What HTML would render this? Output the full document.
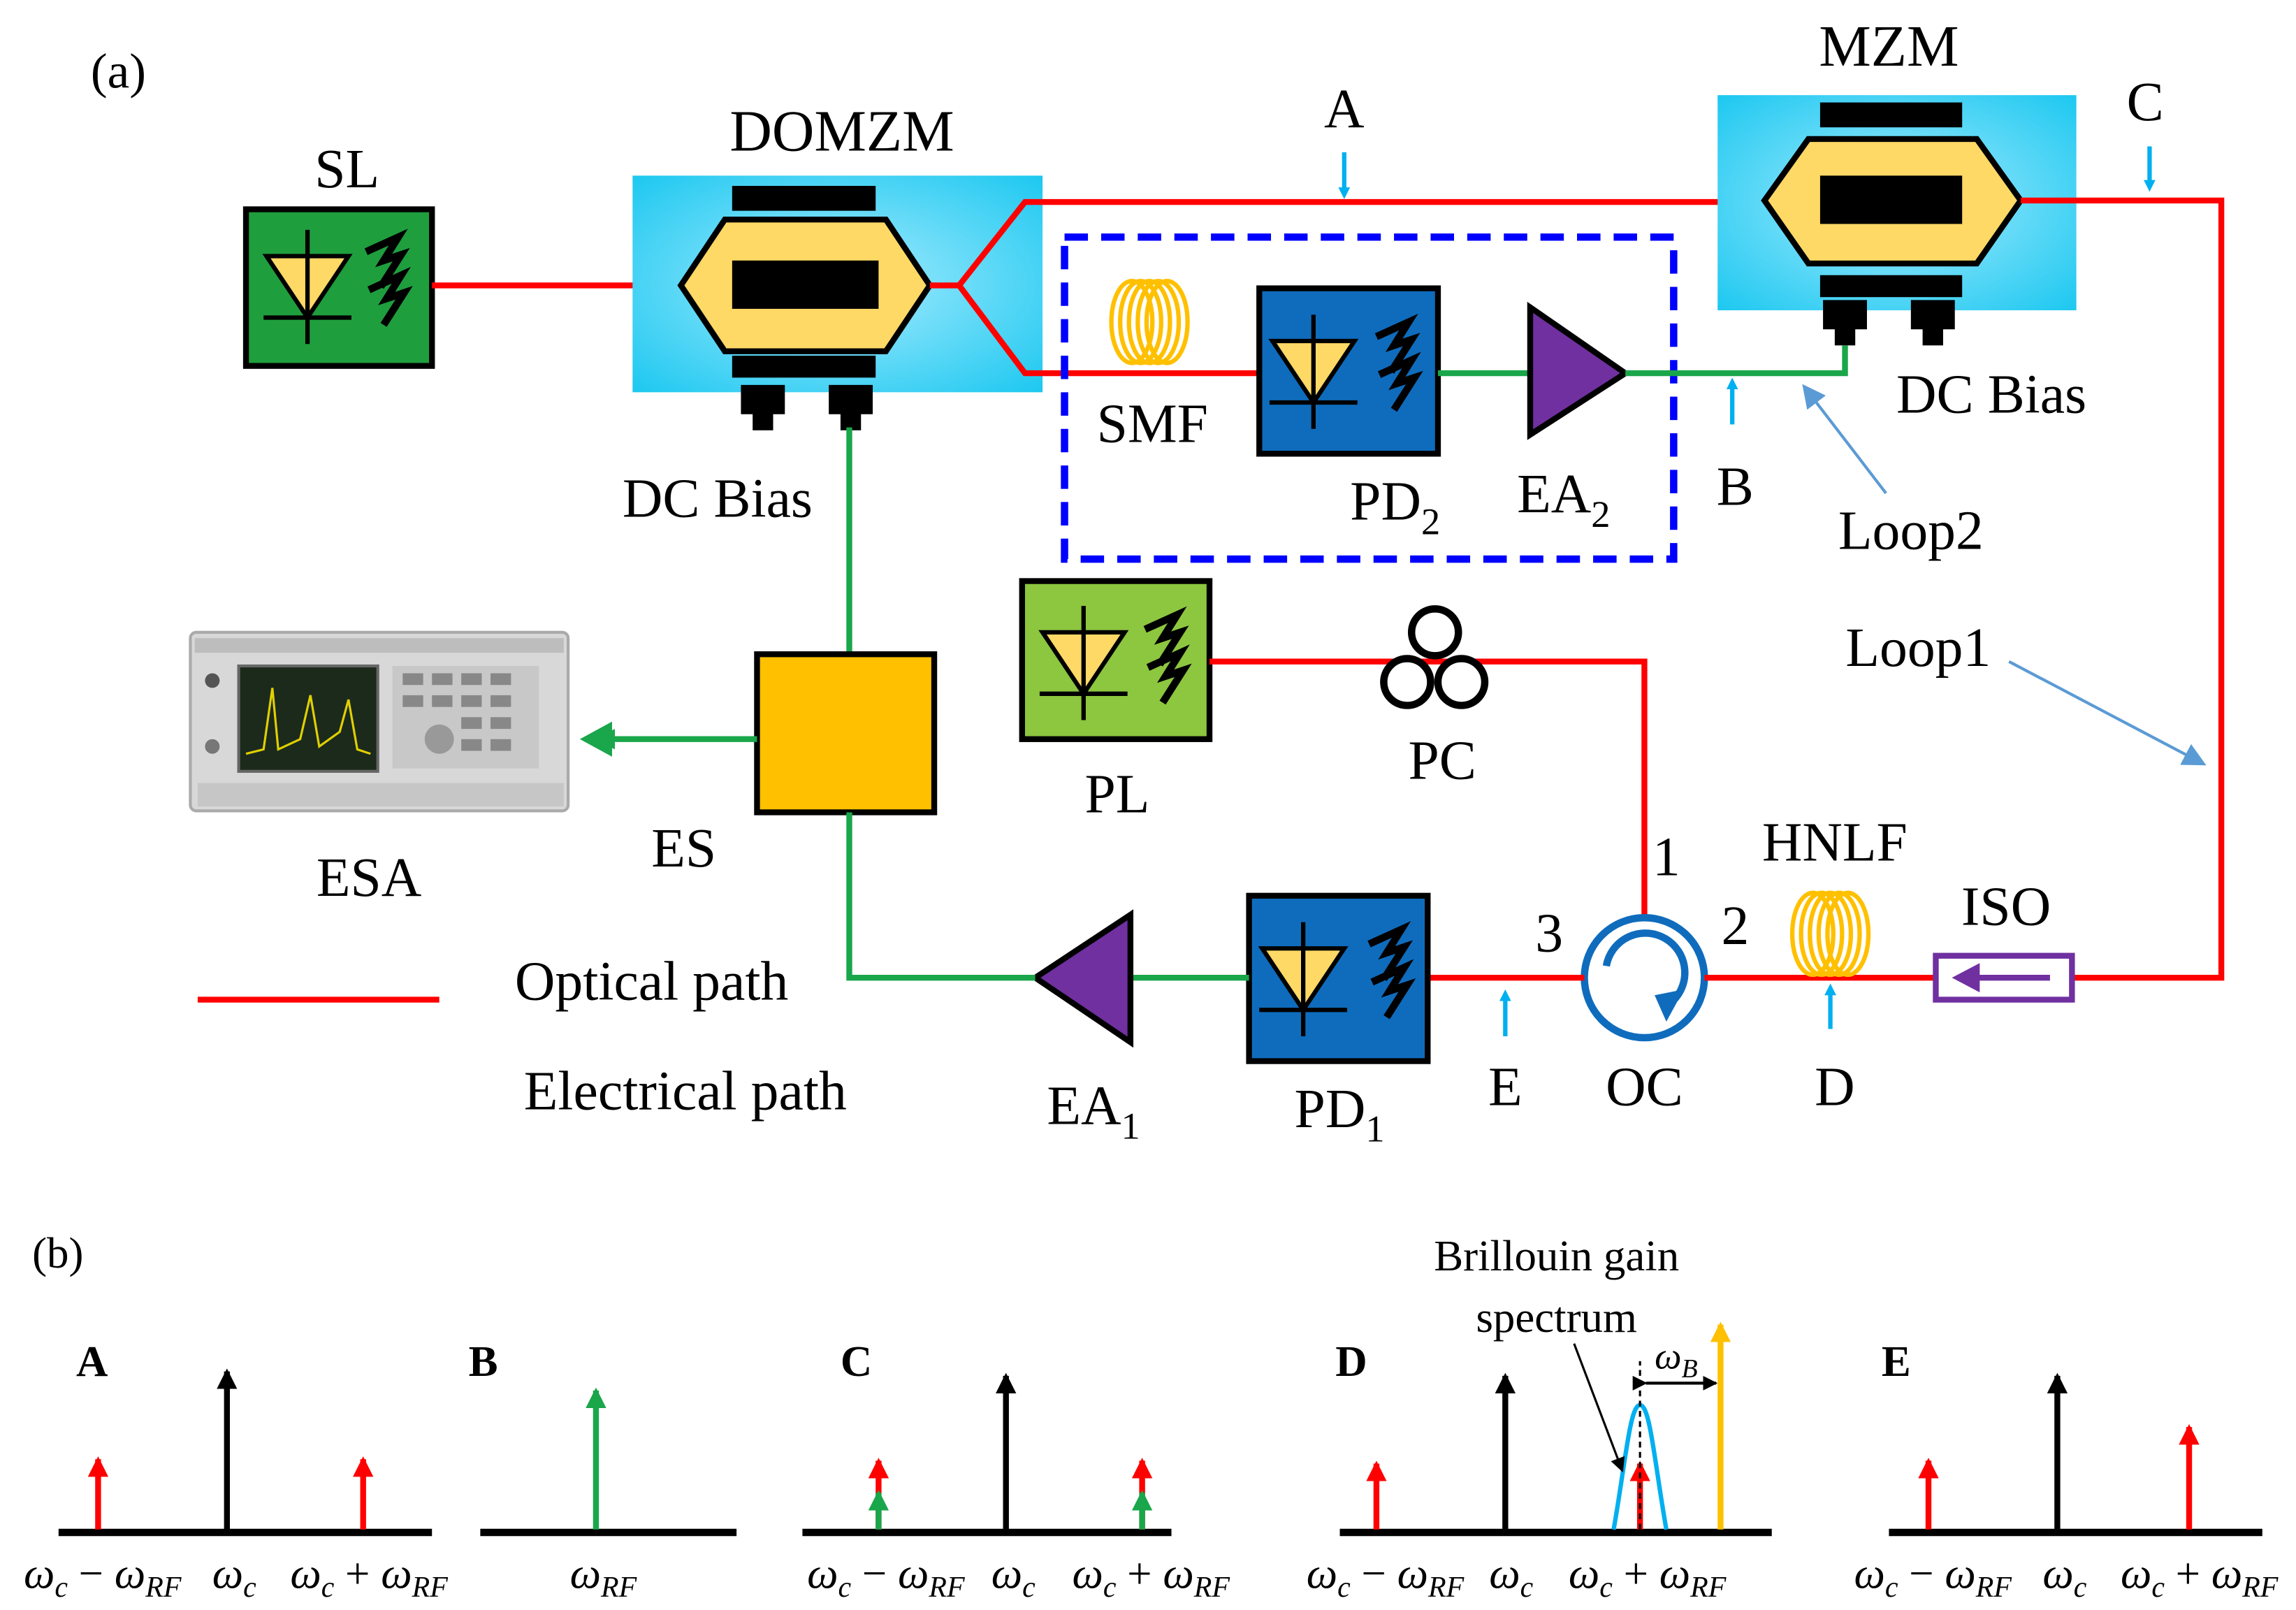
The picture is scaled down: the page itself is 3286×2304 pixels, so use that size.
<!DOCTYPE html>
<html><head><meta charset="utf-8"><style>
html,body{margin:0;padding:0;background:#fff;}
svg{display:block;}
text{font-family:"Liberation Serif",serif;fill:#000;}
</style></head><body>
<svg width="3286" height="2304" viewBox="0 0 1568 1100" preserveAspectRatio="none" xmlns="http://www.w3.org/2000/svg">
<defs>
<marker id="ab" markerWidth="8" markerHeight="8" refX="4" refY="4" orient="auto" markerUnits="userSpaceOnUse"><path d="M0,0 L8,4 L0,8 Z" fill="#00b0f0"/></marker>
<marker id="ak" markerWidth="14" markerHeight="14" refX="12" refY="7" orient="auto" markerUnits="userSpaceOnUse"><path d="M0,0 L14,7 L0,14 Z" fill="#000"/></marker>
<marker id="ar" markerWidth="14" markerHeight="14" refX="12" refY="7" orient="auto" markerUnits="userSpaceOnUse"><path d="M0,0 L14,7 L0,14 Z" fill="#ff0000"/></marker>
<marker id="ag" markerWidth="14" markerHeight="14" refX="12" refY="7" orient="auto" markerUnits="userSpaceOnUse"><path d="M0,0 L14,7 L0,14 Z" fill="#1aa64a"/></marker>
<marker id="ay" markerWidth="14" markerHeight="14" refX="12" refY="7" orient="auto" markerUnits="userSpaceOnUse"><path d="M0,0 L14,7 L0,14 Z" fill="#ffc000"/></marker>
<marker id="ap" markerWidth="16" markerHeight="16" refX="14" refY="8" orient="auto" markerUnits="userSpaceOnUse"><path d="M0,0 L16,8 L0,16 Z" fill="#5b9bd5"/></marker>
<marker id="ak2" markerWidth="10" markerHeight="10" refX="9" refY="5" orient="auto" markerUnits="userSpaceOnUse"><path d="M0,0 L10,5 L0,10 Z" fill="#000"/></marker>
<radialGradient id="cy" cx="50%" cy="50%" r="70%"><stop offset="0" stop-color="#a8ecff"/><stop offset="1" stop-color="#1ec8f0"/></radialGradient>
<g id="diode"><path d="M-28,-20 L28,-20 L0,22 Z" fill="#ffd966" stroke="#000" stroke-width="3"/><line x1="-30" y1="22" x2="30" y2="22" stroke="#000" stroke-width="3"/><line x1="0" y1="-38" x2="0" y2="40" stroke="#000" stroke-width="3"/></g>
<g id="arrs"><path d="M0,-20 L22,-30 L12,-14 L24,-18 L10,4" fill="none" stroke="#000" stroke-width="5"/><path d="M2,6 L24,-4 L14,12 L26,8 L12,30" fill="none" stroke="#000" stroke-width="5"/></g>
<g id="coil" fill="none" stroke="#ffc000" stroke-width="3">
<ellipse cx="-12" cy="0" rx="14" ry="28"/><ellipse cx="-6" cy="0" rx="14" ry="28"/><ellipse cx="0" cy="0" rx="14" ry="28"/><ellipse cx="6" cy="0" rx="14" ry="28"/><ellipse cx="12" cy="0" rx="14" ry="28"/></g>
</defs>

<text x="62" y="60" font-size="34">(a)</text>

<!-- SL -->
<text x="237" y="128" font-size="38" text-anchor="middle">SL</text>
<rect x="168" y="143" width="127" height="107" fill="#1f9e3e" stroke="#000" stroke-width="4"/>
<use href="#diode" x="210" y="195"/><use href="#arrs" x="250" y="192"/>
<line x1="295" y1="195" x2="435" y2="195" stroke="#ff0000" stroke-width="4"/>

<!-- DOMZM -->
<text x="575" y="103" font-size="40" text-anchor="middle">DOMZM</text>
<rect x="432" y="120" width="280" height="148" fill="url(#cy)"/>
<rect x="500" y="127" width="98" height="17" fill="#000"/>
<rect x="500" y="243" width="98" height="15" fill="#000"/>
<path d="M465,195 L495,150 L605,150 L635,195 L605,240 L495,240 Z" fill="#ffd966" stroke="#000" stroke-width="4"/>
<rect x="500" y="178" width="100" height="33" fill="#000"/>
<rect x="506" y="263" width="30" height="20" fill="#000"/><rect x="514" y="280" width="14" height="14" fill="#000"/>
<rect x="566" y="263" width="30" height="20" fill="#000"/><rect x="574" y="280" width="14" height="14" fill="#000"/>
<text x="490" y="353" font-size="38" text-anchor="middle">DC Bias</text>
<path d="M635,195 L655,195 L700,138 L1210,138" fill="none" stroke="#ff0000" stroke-width="4"/>
<path d="M655,195 L700,255 L862,255" fill="none" stroke="#ff0000" stroke-width="4"/>

<!-- A -->
<text x="918" y="87" font-size="38" text-anchor="middle">A</text>
<line x1="918" y1="104" x2="918" y2="132" stroke="#00b0f0" stroke-width="3" marker-end="url(#ab)"/>

<!-- MZM -->
<text x="1290" y="45" font-size="40" text-anchor="middle">MZM</text>
<rect x="1173" y="65" width="245" height="147" fill="url(#cy)"/>
<rect x="1243" y="70" width="97" height="17" fill="#000"/>
<rect x="1243" y="188" width="97" height="15" fill="#000"/>
<path d="M1205,137 L1235,95 L1350,95 L1380,137 L1350,180 L1235,180 Z" fill="#ffd966" stroke="#000" stroke-width="4"/>
<rect x="1243" y="120" width="97" height="33" fill="#000"/>
<rect x="1245" y="205" width="30" height="20" fill="#000"/><rect x="1253" y="222" width="14" height="14" fill="#000"/>
<rect x="1305" y="205" width="30" height="20" fill="#000"/><rect x="1313" y="222" width="14" height="14" fill="#000"/>
<text x="1360" y="282" font-size="38" text-anchor="middle">DC Bias</text>
<path d="M1380,137 L1517,137 L1517,668 L1416,668" fill="none" stroke="#ff0000" stroke-width="4"/>
<text x="1465" y="82" font-size="38" text-anchor="middle">C</text>
<line x1="1468" y1="100" x2="1468" y2="127" stroke="#00b0f0" stroke-width="3" marker-end="url(#ab)"/>

<!-- Loop2 dashed -->
<rect x="727" y="162" width="416" height="220" fill="none" stroke="#0000ff" stroke-width="5" stroke-dasharray="16,9"/>
<use href="#coil" x="785" y="220"/>
<text x="787" y="302" font-size="38" text-anchor="middle">SMF</text>
<rect x="860" y="197" width="122" height="113" fill="#0f6cbd" stroke="#000" stroke-width="4"/>
<use href="#diode" x="897" y="253"/><use href="#arrs" x="940" y="250"/>
<text x="922" y="355" font-size="38">PD<tspan font-size="26" dy="10">2</tspan></text>
<line x1="982" y1="255" x2="1045" y2="255" stroke="#1aa64a" stroke-width="4"/>
<path d="M1045,210 L1110,255 L1045,297 Z" fill="#7030a0" stroke="#000" stroke-width="4"/>
<text x="1036" y="350" font-size="38">EA<tspan font-size="26" dy="10">2</tspan></text>
<path d="M1110,255 L1260,255 L1260,236" fill="none" stroke="#1aa64a" stroke-width="4"/>
<text x="1185" y="345" font-size="38" text-anchor="middle">B</text>
<line x1="1183" y1="290" x2="1183" y2="262" stroke="#00b0f0" stroke-width="3" marker-end="url(#ab)"/>
<text x="1305" y="375" font-size="38" text-anchor="middle">Loop2</text>
<line x1="1288" y1="337" x2="1232" y2="264" stroke="#5b9bd5" stroke-width="2" marker-end="url(#ap)"/>

<!-- ES -->
<line x1="580" y1="292" x2="580" y2="447" stroke="#1aa64a" stroke-width="4"/>
<rect x="517" y="447" width="121" height="108" fill="#ffc000" stroke="#000" stroke-width="4"/>
<text x="467" y="592" font-size="38" text-anchor="middle">ES</text>
<line x1="517" y1="505" x2="408" y2="505" stroke="#1aa64a" stroke-width="4" marker-end="url(#ag)"/>
<path d="M517,505 L400,505" stroke="none"/>
<polygon points="396,505 418,493 418,517" fill="#1aa64a"/>

<!-- ESA -->
<rect x="130" y="432" width="258" height="122" rx="4" fill="#d8d8d8" stroke="#aaa" stroke-width="2"/>
<rect x="133" y="436" width="252" height="10" fill="#bdbdbd"/>
<rect x="163" y="455" width="95" height="72" fill="#1c2a1c" stroke="#666" stroke-width="2"/>
<path d="M168,515 L180,512 L186,470 L190,512 L205,505 L212,475 L218,510 L232,500 L238,478 L244,512 L253,515" fill="none" stroke="#e0d000" stroke-width="1.5"/>
<rect x="268" y="455" width="100" height="70" fill="#c8c8c8"/>
<g fill="#888"><rect x="275" y="460" width="14" height="8"/><rect x="295" y="460" width="14" height="8"/><rect x="315" y="460" width="14" height="8"/><rect x="335" y="460" width="14" height="8"/><rect x="275" y="475" width="14" height="8"/><rect x="295" y="475" width="14" height="8"/><rect x="315" y="475" width="14" height="8"/><rect x="335" y="475" width="14" height="8"/><rect x="315" y="490" width="14" height="8"/><rect x="335" y="490" width="14" height="8"/><rect x="315" y="505" width="14" height="8"/><rect x="335" y="505" width="14" height="8"/></g>
<circle cx="300" cy="505" r="10" fill="#999"/>
<circle cx="145" cy="465" r="5" fill="#555"/><circle cx="145" cy="510" r="5" fill="#777"/>
<rect x="135" y="535" width="250" height="16" fill="#c6c6c6"/>
<text x="252" y="612" font-size="38" text-anchor="middle">ESA</text>

<!-- PL -->
<rect x="698" y="397" width="128" height="108" fill="#8dc63f" stroke="#000" stroke-width="4"/>
<use href="#diode" x="740" y="452"/><use href="#arrs" x="782" y="450"/>
<text x="763" y="555" font-size="38" text-anchor="middle">PL</text>
<path d="M826,452 L1123,452 L1123,628" fill="none" stroke="#ff0000" stroke-width="4"/>
<g fill="#fff" stroke="#000" stroke-width="5"><circle cx="980" cy="432" r="16"/><circle cx="961" cy="466" r="16"/><circle cx="998" cy="466" r="16"/></g>
<text x="985" y="532" font-size="38" text-anchor="middle">PC</text>

<text x="1310" y="455" font-size="38" text-anchor="middle">Loop1</text>
<line x1="1372" y1="452" x2="1505" y2="522" stroke="#5b9bd5" stroke-width="2" marker-end="url(#ap)"/>

<!-- OC -->
<circle cx="1123" cy="668" r="41" fill="#fff" stroke="#0f6cbd" stroke-width="5"/>
<path d="M1097,660 A27,27 0 1 1 1140,686" fill="none" stroke="#0f6cbd" stroke-width="5"/>
<polygon points="1130,680 1150,676 1138,698" fill="#0f6cbd"/>
<text x="1138" y="598" font-size="38" text-anchor="middle">1</text>
<text x="1185" y="645" font-size="38" text-anchor="middle">2</text>
<text x="1058" y="650" font-size="38" text-anchor="middle">3</text>
<text x="1123" y="755" font-size="38" text-anchor="middle">OC</text>
<line x1="1164" y1="668" x2="1322" y2="668" stroke="#ff0000" stroke-width="4"/>
<use href="#coil" x="1250" y="638"/>
<text x="1253" y="588" font-size="38" text-anchor="middle">HNLF</text>
<text x="1253" y="755" font-size="38" text-anchor="middle">D</text>
<line x1="1250" y1="703" x2="1250" y2="676" stroke="#00b0f0" stroke-width="3" marker-end="url(#ab)"/>
<rect x="1322" y="653" width="93" height="30" fill="#fff" stroke="#7030a0" stroke-width="4"/>
<line x1="1400" y1="668" x2="1345" y2="668" stroke="#7030a0" stroke-width="4"/>
<polygon points="1333,668 1352,658 1352,678" fill="#7030a0"/>
<text x="1370" y="632" font-size="38" text-anchor="middle">ISO</text>

<!-- PD1 -->
<line x1="1082" y1="668" x2="975" y2="668" stroke="#ff0000" stroke-width="4"/>
<text x="1028" y="755" font-size="38" text-anchor="middle">E</text>
<line x1="1028" y1="708" x2="1028" y2="680" stroke="#00b0f0" stroke-width="3" marker-end="url(#ab)"/>
<rect x="853" y="612" width="122" height="113" fill="#0f6cbd" stroke="#000" stroke-width="4"/>
<use href="#diode" x="890" y="668"/><use href="#arrs" x="935" y="665"/>
<text x="884" y="770" font-size="38">PD<tspan font-size="26" dy="10">1</tspan></text>
<line x1="853" y1="668" x2="772" y2="668" stroke="#1aa64a" stroke-width="4"/>
<path d="M772,625 L707,668 L772,712 Z" fill="#7030a0" stroke="#000" stroke-width="4"/>
<text x="715" y="768" font-size="38">EA<tspan font-size="26" dy="10">1</tspan></text>
<path d="M707,668 L580,668 L580,555" fill="none" stroke="#1aa64a" stroke-width="4"/>

<!-- legend -->
<line x1="135" y1="683" x2="300" y2="683" stroke="#ff0000" stroke-width="4"/>
<text x="445" y="683" font-size="38" text-anchor="middle">Optical path</text>
<text x="468" y="758" font-size="38" text-anchor="middle">Electrical path</text>

<!-- (b) -->
<text x="22" y="866" font-size="30">(b)</text>
<g font-size="30" font-weight="bold">
<text x="52" y="940">A</text><text x="320" y="940">B</text><text x="574" y="940">C</text><text x="912" y="940">D</text><text x="1285" y="940">E</text>
</g>
<g stroke="#000" stroke-width="5">
<line x1="40" y1="1047" x2="295" y2="1047"/><line x1="328" y1="1047" x2="503" y2="1047"/><line x1="548" y1="1047" x2="800" y2="1047"/><line x1="915" y1="1047" x2="1210" y2="1047"/><line x1="1290" y1="1047" x2="1545" y2="1047"/>
</g>
<g stroke-width="4">
<line x1="155" y1="1045" x2="155" y2="937" stroke="#000" marker-end="url(#ak)"/>
<line x1="67" y1="1045" x2="67" y2="997" stroke="#ff0000" marker-end="url(#ar)"/>
<line x1="248" y1="1045" x2="248" y2="997" stroke="#ff0000" marker-end="url(#ar)"/>
<line x1="407" y1="1045" x2="407" y2="950" stroke="#1aa64a" marker-end="url(#ag)"/>
<line x1="687" y1="1045" x2="687" y2="940" stroke="#000" marker-end="url(#ak)"/>
<line x1="600" y1="1045" x2="600" y2="998" stroke="#ff0000" marker-end="url(#ar)"/>
<line x1="600" y1="1045" x2="600" y2="1020" stroke="#1aa64a" marker-end="url(#ag)"/>
<line x1="780" y1="1045" x2="780" y2="998" stroke="#ff0000" marker-end="url(#ar)"/>
<line x1="780" y1="1045" x2="780" y2="1020" stroke="#1aa64a" marker-end="url(#ag)"/>
<line x1="940" y1="1045" x2="940" y2="1000" stroke="#ff0000" marker-end="url(#ar)"/>
<line x1="1028" y1="1045" x2="1028" y2="940" stroke="#000" marker-end="url(#ak)"/>
<line x1="1120" y1="1045" x2="1120" y2="1000" stroke="#ff0000" marker-end="url(#ar)"/>
<line x1="1175" y1="1045" x2="1175" y2="905" stroke="#ffc000" marker-end="url(#ay)"/>
<line x1="1317" y1="1045" x2="1317" y2="998" stroke="#ff0000" marker-end="url(#ar)"/>
<line x1="1405" y1="1045" x2="1405" y2="940" stroke="#000" marker-end="url(#ak)"/>
<line x1="1495" y1="1045" x2="1495" y2="975" stroke="#ff0000" marker-end="url(#ar)"/>
</g>
<path d="M1102,1045 C1110,1000 1113,960 1120,960 C1127,960 1130,1000 1138,1045" fill="none" stroke="#00b0f0" stroke-width="3"/>
<line x1="1120" y1="1045" x2="1120" y2="930" stroke="#000" stroke-width="1.5" stroke-dasharray="4,3"/>
<line x1="1124" y1="945" x2="1172" y2="945" stroke="#000" stroke-width="2" marker-end="url(#ak2)" marker-start="url(#ak2)"/>
<text x="1130" y="935" font-size="26" font-style="italic">ω<tspan font-size="18" dy="6">B</tspan></text>
<text x="1063" y="868" font-size="30" text-anchor="middle">Brillouin gain</text>
<text x="1063" y="910" font-size="30" text-anchor="middle">spectrum</text>
<line x1="1075" y1="918" x2="1108" y2="1005" stroke="#000" stroke-width="1.5" marker-end="url(#ak2)"/>

<g font-size="30">
<text x="70" y="1085" text-anchor="middle"><tspan font-style="italic">ω</tspan><tspan font-size="20" dy="6" font-style="italic">c</tspan><tspan dy="-6"> − </tspan><tspan font-style="italic">ω</tspan><tspan font-size="20" dy="6" font-style="italic">RF</tspan></text>
<text x="160" y="1085" text-anchor="middle"><tspan font-style="italic">ω</tspan><tspan font-size="20" dy="6" font-style="italic">c</tspan></text>
<text x="252" y="1085" text-anchor="middle"><tspan font-style="italic">ω</tspan><tspan font-size="20" dy="6" font-style="italic">c</tspan><tspan dy="-6"> + </tspan><tspan font-style="italic">ω</tspan><tspan font-size="20" dy="6" font-style="italic">RF</tspan></text>
<text x="412" y="1085" text-anchor="middle"><tspan font-style="italic">ω</tspan><tspan font-size="20" dy="6" font-style="italic">RF</tspan></text>
<text x="605" y="1085" text-anchor="middle"><tspan font-style="italic">ω</tspan><tspan font-size="20" dy="6" font-style="italic">c</tspan><tspan dy="-6"> − </tspan><tspan font-style="italic">ω</tspan><tspan font-size="20" dy="6" font-style="italic">RF</tspan></text>
<text x="692" y="1085" text-anchor="middle"><tspan font-style="italic">ω</tspan><tspan font-size="20" dy="6" font-style="italic">c</tspan></text>
<text x="786" y="1085" text-anchor="middle"><tspan font-style="italic">ω</tspan><tspan font-size="20" dy="6" font-style="italic">c</tspan><tspan dy="-6"> + </tspan><tspan font-style="italic">ω</tspan><tspan font-size="20" dy="6" font-style="italic">RF</tspan></text>
<text x="946" y="1085" text-anchor="middle"><tspan font-style="italic">ω</tspan><tspan font-size="20" dy="6" font-style="italic">c</tspan><tspan dy="-6"> − </tspan><tspan font-style="italic">ω</tspan><tspan font-size="20" dy="6" font-style="italic">RF</tspan></text>
<text x="1032" y="1085" text-anchor="middle"><tspan font-style="italic">ω</tspan><tspan font-size="20" dy="6" font-style="italic">c</tspan></text>
<text x="1125" y="1085" text-anchor="middle"><tspan font-style="italic">ω</tspan><tspan font-size="20" dy="6" font-style="italic">c</tspan><tspan dy="-6"> + </tspan><tspan font-style="italic">ω</tspan><tspan font-size="20" dy="6" font-style="italic">RF</tspan></text>
<text x="1320" y="1085" text-anchor="middle"><tspan font-style="italic">ω</tspan><tspan font-size="20" dy="6" font-style="italic">c</tspan><tspan dy="-6"> − </tspan><tspan font-style="italic">ω</tspan><tspan font-size="20" dy="6" font-style="italic">RF</tspan></text>
<text x="1410" y="1085" text-anchor="middle"><tspan font-style="italic">ω</tspan><tspan font-size="20" dy="6" font-style="italic">c</tspan></text>
<text x="1502" y="1085" text-anchor="middle"><tspan font-style="italic">ω</tspan><tspan font-size="20" dy="6" font-style="italic">c</tspan><tspan dy="-6"> + </tspan><tspan font-style="italic">ω</tspan><tspan font-size="20" dy="6" font-style="italic">RF</tspan></text>
</g>
</svg>
</body></html>
